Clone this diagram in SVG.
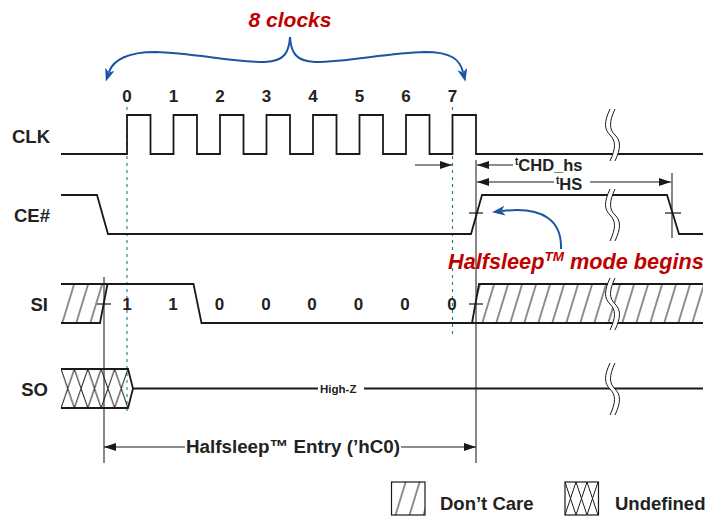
<svg xmlns="http://www.w3.org/2000/svg" width="710" height="517" viewBox="0 0 710 517">
<style>
  .w{fill:none;stroke:#1a1a1a;stroke-width:1.8;stroke-linejoin:miter}
  .thin{fill:none;stroke:#1a1a1a;stroke-width:1.2}
  .grey{fill:none;stroke:#555;stroke-width:1.4}
  .dash{fill:none;stroke:#1a7f80;stroke-width:1.1;stroke-dasharray:3 4}
  .blue{fill:none;stroke:#1b55a3;stroke-width:2}
  .lbl{font-family:"Liberation Sans",Arial,sans-serif;font-weight:bold;fill:#222}
  .red{font-family:"Liberation Sans",Arial,sans-serif;font-weight:bold;font-style:italic;fill:#c00000}
  .brkline{fill:none;stroke:#1a1a1a;stroke-width:1}
</style>
<defs>
  <marker id="ah" viewBox="0 0 12 8" refX="12" refY="4" markerWidth="12" markerHeight="8" markerUnits="userSpaceOnUse" orient="auto">
    <path d="M0,0 L12,4 L0,8 Z" fill="#1a1a1a"/>
  </marker>
  <marker id="bh" viewBox="0 0 13 10" refX="3" refY="5" markerWidth="13" markerHeight="10" markerUnits="userSpaceOnUse" orient="auto-start-reverse">
    <path d="M0,0 L13,5 L0,10 L3.5,5 Z" fill="#1b55a3"/>
  </marker>
  <pattern id="hatch" patternUnits="userSpaceOnUse" width="14" height="10" patternTransform="skewX(-17)">
    <line x1="7" y1="-1" x2="7" y2="11" stroke="#1a1a1a" stroke-width="1"/>
  </pattern>
  <pattern id="xhatch" patternUnits="userSpaceOnUse" x="61" y="369" width="13.4" height="39">
    <path d="M0,0 L13.4,39 M13.4,0 L0,39" stroke="#1a1a1a" stroke-width="1" fill="none"/>
  </pattern>
  <pattern id="xhatch2" patternUnits="userSpaceOnUse" x="565" y="482" width="11" height="33">
    <path d="M0,0 L11,33 M11,0 L0,33" stroke="#1a1a1a" stroke-width="1" fill="none"/>
  </pattern>
  <g id="brk">
    <path d="M0,0 C-6,13 -6,20 0,26 C6,32 6,39 0,52 L5,52 C11,39 11,32 5,26 C-1,20 -1,13 5,0 Z" fill="#fff"/>
    <path class="brkline" d="M0,0 C-6,13 -6,20 0,26 C6,32 6,39 0,52"/>
    <path class="brkline" d="M5,0 C-1,13 -1,20 5,26 C11,32 11,39 5,52"/>
  </g>
</defs>
<rect width="710" height="517" fill="#fff"/>

<!-- guides -->
<g id="guides">
  <line class="dash" x1="127" y1="107" x2="127" y2="415"/>
  <line class="dash" x1="452.5" y1="107" x2="452.5" y2="338"/>
  <line class="grey" x1="104" y1="277" x2="104" y2="463"/>
  <line class="grey" x1="476" y1="160" x2="476" y2="463"/>
  <line class="grey" x1="672" y1="173" x2="672" y2="238"/>
</g>

<!-- brace -->
<g id="brace">
  <path class="blue" marker-start="url(#bh)" marker-end="url(#bh)" d="M109,72 C113,60 128,52 155,52 C195,53 230,62 265,62 C285,61 289,52 290,37 C291,52 295,61 315,62 C350,62 385,53 425,52 C452,52 460,60 463,72"/>
  <text class="red" x="290" y="27" font-size="21" text-anchor="middle">8 clocks</text>
</g>

<!-- clock numbers -->
<g id="clknums" class="lbl" font-size="17" text-anchor="middle">
  <text x="127" y="102">0</text><text x="173.5" y="102">1</text><text x="220" y="102">2</text><text x="266.5" y="102">3</text>
  <text x="313" y="102">4</text><text x="359.5" y="102">5</text><text x="406" y="102">6</text><text x="452.5" y="102">7</text>
</g>

<!-- signal labels -->
<g id="labels" class="lbl" font-size="18.5" text-anchor="end">
  <text x="50" y="143">CLK</text>
  <text x="50" y="222">CE#</text>
  <text x="48" y="311">SI</text>
  <text x="48" y="396">SO</text>
</g>

<!-- CLK -->
<g id="clk">
  <path class="w" d="M61,154 H127 V115 H150.5 V154 H173.5 V115 H197 V154 H220 V115 H243.5 V154 H266.5 V115 H290 V154 H313 V115 H336.5 V154 H359.5 V115 H383 V154 H406 V115 H429.5 V154 H452.5 V115 H476 V154 H703"/>
  <use href="#brk" x="610" y="109"/>
</g>

<!-- CE# -->
<g id="ce">
  <path class="w" d="M61,195 H97 L108,234 H471 L482,195 H667 L679,234 H703"/>
  <line class="thin" x1="469" y1="213" x2="483" y2="213"/>
  <line class="thin" x1="665" y1="213" x2="681" y2="213"/>
  <use href="#brk" x="610" y="189"/>
</g>

<!-- SI -->
<g id="si">
  <path d="M61,284 H107.5 L100,323 H61 Z" fill="url(#hatch)"/>
  <path d="M479,284 H703 V323 H472 Z" fill="url(#hatch)"/>
  <path class="w" d="M61,284 H193.5 L201.5,323 H472 L479,284 H703"/>
  <path class="w" d="M61,323 H100 L107.5,284"/>
  <line class="w" x1="472" y1="323" x2="703" y2="323"/>
  <line class="thin" x1="97" y1="304" x2="111" y2="304"/>
  <line class="thin" x1="469" y1="304" x2="483" y2="304"/>
  <use href="#brk" x="610" y="278"/>
  <g class="lbl" font-size="17" text-anchor="middle">
    <text x="127" y="310">1</text><text x="173" y="310">1</text><text x="219.5" y="310">0</text><text x="266" y="310">0</text>
    <text x="312" y="310">0</text><text x="358.5" y="310">0</text><text x="405" y="310">0</text><text x="452" y="310">0</text>
  </g>
</g>

<!-- SO -->
<g id="so">
  <path d="M61,369 H128 L133,388.5 L128,408 H61 Z" fill="url(#xhatch)"/>
  <path class="w" d="M61,369 H128 L133,388.5 L128,408 H61"/>
  <line class="w" x1="133" y1="388.5" x2="318" y2="388.5"/>
  <line class="w" x1="364" y1="388.5" x2="703" y2="388.5"/>
  <text class="lbl" x="320" y="392.5" font-size="11.5">High-Z</text>
  <use href="#brk" x="610" y="363"/>
</g>

<!-- timing annotations -->
<g id="connectors">
  <line class="thin" x1="415" y1="165" x2="452" y2="165" marker-end="url(#ah)"/>
  <line class="thin" x1="513" y1="165" x2="477" y2="165" marker-end="url(#ah)"/>
  <line class="thin" x1="554" y1="182" x2="477" y2="182" marker-end="url(#ah)"/>
  <line class="thin" x1="590" y1="182" x2="671" y2="182" marker-end="url(#ah)"/>
  <line class="thin" x1="185" y1="447" x2="104" y2="447" marker-end="url(#ah)"/>
  <line class="thin" x1="401" y1="447" x2="476" y2="447" marker-end="url(#ah)"/>
  <path class="blue" marker-end="url(#bh)" d="M561,249 C562,222 545,206 502,211"/>
</g>
<g id="tlabels" class="lbl">
  <text x="515" y="171" font-size="16.5"><tspan font-size="10" dy="-6">t</tspan><tspan dy="6">CHD_hs</tspan></text>
  <text x="556" y="190" font-size="16.5"><tspan font-size="10" dy="-6">t</tspan><tspan dy="6">HS</tspan></text>
  <text x="186" y="453" font-size="18.8">Halfsleep™ Entry (’hC0)</text>
</g>
<text class="red" x="448" y="269" font-size="21.7">Halfsleep<tspan font-size="13.5" dy="-8">TM</tspan><tspan dy="8"> mode begins</tspan></text>

<!-- legend -->
<g id="legend">
  <rect x="391.5" y="482" width="33.5" height="33" fill="url(#hatch)" stroke="#1a1a1a" stroke-width="1.2"/>
  <text class="lbl" x="440" y="510" font-size="18.5">Don’t Care</text>
  <rect x="565" y="482" width="33.5" height="33" fill="url(#xhatch2)" stroke="#1a1a1a" stroke-width="1.2"/>
  <text class="lbl" x="615" y="510" font-size="18.5">Undefined</text>
</g>
</svg>
